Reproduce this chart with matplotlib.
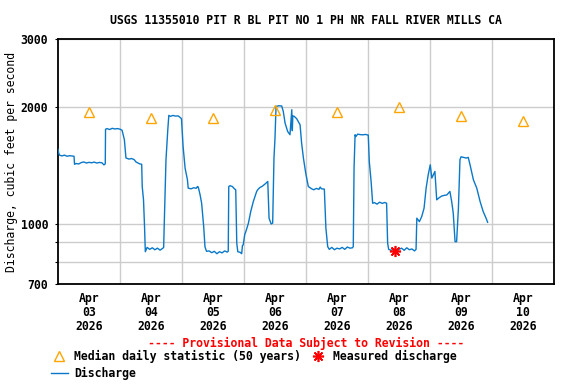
import matplotlib
matplotlib.use("Agg")
import matplotlib.pyplot as plt
from matplotlib.lines import Line2D
from matplotlib.ticker import FixedLocator, FixedFormatter, NullFormatter
import pandas as pd

start = pd.Timestamp("2026-04-03 00:00")

# discharge, hours after Apr 03 00:00 and cfs
q_hours = [0.0, 0.3, 0.6, 1.5, 2.5, 3.5, 4.5, 5.5, 6.2, 6.4, 7.0, 8.0, 9.0, 10.0, 11.0,
           12.0, 13.0, 14.0, 15.0, 16.0, 17.0, 17.8, 18.3, 18.4, 19.0, 20.0, 21.0, 22.0,
           23.0, 24.0, 24.8, 25.7, 26.3, 27.5, 28.5, 29.5, 30.2, 31.5, 32.4, 32.6, 33.1,
           33.5, 33.8, 34.5, 35.5, 36.5, 37.5, 38.5, 39.5, 40.5, 40.9, 41.1, 41.8, 42.5,
           42.9, 43.5, 44.5, 45.5, 46.5, 47.2, 47.8, 48.4, 49.2, 50.1, 50.4, 51.5, 52.5,
           53.5, 54.0, 54.3, 55.0, 55.6, 56.4, 56.9, 57.5, 58.5, 59.5, 60.5, 61.5, 62.5,
           63.5, 64.5, 65.5, 65.9, 66.1, 66.6, 67.5, 68.3, 68.8, 69.2, 69.6, 70.5, 71.1,
           71.4, 71.7, 72.3, 72.7, 73.7, 74.6, 75.6, 76.9, 77.5, 78.2, 79.0, 80.1, 81.2,
           81.7, 82.5, 83.1, 83.6, 84.0, 84.4, 85.5, 86.6, 87.2, 87.9, 88.9, 89.8, 90.5,
           90.7, 90.9, 91.5, 92.4, 93.7, 94.3, 95.0, 95.9, 96.9, 98.2, 99.0, 100.0, 101.0,
           101.5, 102.0, 103.1, 103.7, 104.4, 105.0, 106.0, 107.0, 108.0, 109.0, 110.0,
           111.0, 112.0, 113.0, 114.0, 114.3, 114.6, 115.0, 115.3, 116.0, 117.0, 118.0,
           119.0, 120.1, 120.5, 121.2, 121.8, 122.5, 123.5, 124.5, 125.5, 126.5, 127.2,
           127.6, 128.0, 129.0, 130.0, 131.0, 132.0, 133.0, 134.0, 135.0, 136.0, 137.0,
           138.0, 138.6, 138.9, 139.9, 140.8, 141.7, 142.5, 143.3, 144.1, 144.7, 145.3,
           145.9, 146.6, 147.5, 148.5, 149.5, 150.5, 151.7, 152.4, 153.0, 153.7, 154.3,
           155.0, 155.6, 156.0, 157.0, 158.0, 158.8, 159.5, 160.8, 162.1, 163.4, 164.6,
           165.7, 166.3]
q_cfs = [1560, 1520, 1505, 1498, 1505, 1495, 1500, 1497, 1495, 1425, 1432, 1428, 1440, 1445, 1436,
         1442, 1438, 1444, 1436, 1441, 1438, 1420, 1430, 1755, 1762, 1752, 1765, 1758,
         1762, 1756, 1745, 1649, 1480, 1470, 1475, 1465, 1445, 1430, 1425, 1249, 1154,
         984, 848, 870, 860, 868, 858, 866, 856, 865, 870, 984, 1464, 1750,
         1906, 1895, 1905, 1898, 1900, 1885, 1868, 1591, 1393, 1300, 1237, 1232, 1240,
         1236, 1249, 1245, 1189, 1131, 984, 872, 850, 852, 843, 850, 838, 848,
         842, 852, 846, 850, 1249, 1255, 1249, 1232, 1225, 892, 848, 845, 838,
         880, 883, 940, 955, 1004, 1076, 1142, 1213, 1230, 1242, 1250, 1267, 1287,
         1035, 1000, 1005, 1479, 1665, 2010, 2018, 2015, 1952, 1821, 1732, 1699, 1971,
         1740, 1900, 1894, 1868, 1803, 1617, 1479, 1352, 1249, 1232, 1225, 1235, 1228,
         1245, 1232, 1230, 975, 874, 860, 870, 858, 866, 862, 870,
         860, 872, 866, 868, 875, 1393, 1699, 1680, 1705, 1700, 1698,
         1702, 1695, 1449, 1287, 1131, 1135, 1125, 1138, 1130, 1136, 1131,
         892, 860, 855, 862, 850, 860, 866, 855, 868, 858, 862,
         852, 860, 1035, 1014, 1045, 1098, 1237, 1339, 1421, 1313, 1339,
         1366, 1154, 1168, 1180, 1185, 1188, 1213, 1142, 1066, 900, 900,
         1098, 1464, 1490, 1485, 1479, 1485, 1421, 1300, 1237, 1142, 1076,
         1035, 1010]

# median daily statistic, plotted at noon
median_hours = [12, 36, 60, 84, 108, 132, 156, 180]
median_cfs = [1940, 1880, 1880, 1970, 1940, 2000, 1900, 1840]

# measured discharge
meas_hours = [130.5]
meas_cfs = [853]

day_labels = ["Apr\n03\n2026", "Apr\n04\n2026", "Apr\n05\n2026", "Apr\n06\n2026",
              "Apr\n07\n2026", "Apr\n08\n2026", "Apr\n09\n2026", "Apr\n10\n2026"]

q_time = start + pd.to_timedelta(q_hours, unit="h")
median_time = start + pd.to_timedelta(median_hours, unit="h")
meas_time = start + pd.to_timedelta(meas_hours, unit="h")

plt.rcParams["font.family"] = "DejaVu Sans Mono"
plt.rcParams["font.weight"] = "bold"
fs = 8.3

fig = plt.figure(figsize=(5.76, 3.84), dpi=100)
ax = fig.add_axes([58 / 576, 100 / 384, 496 / 576, 245 / 384])

blue = "#0a78c8"
orange = "#ffa500"

ax.plot(q_time, q_cfs, color=blue, lw=1.0, zorder=3)
ax.plot(median_time, median_cfs, ls="none", marker="^", ms=7, mfc="none",
        mec=orange, mew=1.0, zorder=4)
ax.plot(meas_time, meas_cfs, ls="none", marker=(8, 2, 0), ms=8, color="red",
        mew=1.2, zorder=5)

ax.set_yscale("log")
ax.set_ylim(700, 3000)
ax.yaxis.set_major_locator(FixedLocator([700, 1000, 2000, 3000]))
ax.yaxis.set_minor_locator(FixedLocator([800, 900]))
ax.yaxis.set_major_formatter(FixedFormatter(["700", "1000", "2000", "3000"]))
ax.yaxis.set_minor_formatter(NullFormatter())

days = pd.date_range("2026-04-03", periods=9, freq="D")
ax.set_xlim(days[0], days[-1])
ax.set_xticks(days[:-1] + pd.Timedelta(hours=12))
ax.set_xticklabels(day_labels)
ax.set_xticks(days[1:-1], minor=True)

ax.grid(True, which="major", axis="y", color="#cccccc", lw=1.0)
ax.grid(True, which="minor", axis="both", color="#cccccc", lw=1.0)
ax.set_axisbelow(True)

ax.tick_params(axis="x", which="both", length=0, pad=6, labelsize=fs)
ax.tick_params(axis="y", which="both", length=2, width=0.8, pad=5, labelsize=fs)
for t in ax.get_xticklabels():
    t.set_linespacing(1.1)
for s in ax.spines.values():
    s.set_linewidth(1.3)

ax.set_ylabel("Discharge, cubic feet per second", fontsize=fs)
ax.yaxis.set_label_coords(-(58 - 18) / 496, 0.5)

fig.text(306 / 576, 1 - 20.5 / 384, "USGS 11355010 PIT R BL PIT NO 1 PH NR FALL RIVER MILLS CA",
         ha="center", va="center", fontsize=fs)
fig.text(306 / 576, 1 - 343 / 384, "---- Provisional Data Subject to Revision ----",
         ha="center", va="center", fontsize=fs, color="red")

handles = [
    Line2D([], [], ls="none", marker="^", ms=7, mfc="none", mec=orange, mew=1.0),
    Line2D([], [], color=blue, lw=1.0),
    Line2D([], [], ls="none", marker=(8, 2, 0), ms=8, color="red", mew=1.2),
]
labels = ["Median daily statistic (50 years)", "Discharge", "Measured discharge"]
fig.legend(handles, labels, loc="upper left", bbox_to_anchor=(51 / 576, 1 - 350 / 384),
           ncol=2, frameon=False, fontsize=fs, borderpad=0, borderaxespad=0,
           handlelength=1.45, handletextpad=0.55, columnspacing=0.75, labelspacing=0.3)

fig.savefig("out.png", dpi=100)
